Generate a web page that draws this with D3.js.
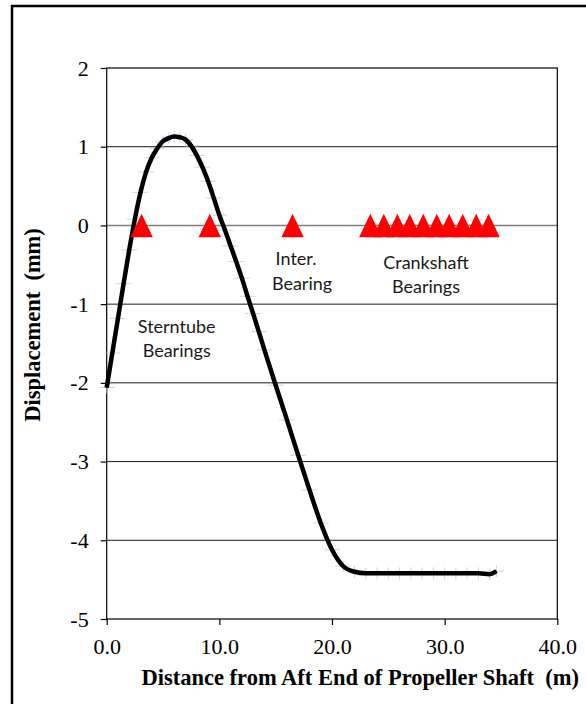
<!DOCTYPE html>
<html lang='en'>
<head>
  <meta charset='UTF-8'>
  <title>Shaft Displacement</title>
  <script src='https://d3js.org/d3.v7.min.js'></script>
  <style>
    body { margin: 0; background: #fff; }
    svg { display: block; }
  </style>
</head>
<body>
<svg width='586' height='704'></svg>
<script>
  // distance from aft end (m) and displacement (mm)
  const dist = [0, 0.5, 1.0, 1.5, 2.0, 2.5, 3.0, 3.5, 4.0, 4.5, 5.0, 5.5, 6.0, 6.5, 7.0, 7.5,
    8.0, 8.5, 9.0, 9.5, 10.0, 10.5, 11.0, 11.5, 12.0, 12.5, 13.0, 13.5, 14.0, 15.0, 16.0,
    17.0, 18.0, 19.0, 20.0, 21.0, 22.0, 23.0, 24.0, 25.0, 26.0, 27.0, 28.0, 29.0, 30.0,
    31.0, 32.0, 33.0, 34.0, 34.6]
  const disp = [-2.06, -1.62, -1.18, -0.74, -0.31, 0.08, 0.42, 0.68, 0.86, 0.98, 1.07, 1.11, 1.13, 1.12, 1.09, 1.01,
    0.89, 0.74, 0.56, 0.35, 0.13, -0.06, -0.26, -0.46, -0.67, -0.9, -1.12, -1.35, -1.58, -2.03, -2.47,
    -2.92, -3.36, -3.78, -4.12, -4.33, -4.40, -4.42, -4.42, -4.42, -4.42, -4.42, -4.42, -4.42, -4.42,
    -4.42, -4.42, -4.42, -4.43, -4.39]

  // bearing positions (m), all sitting at 0 mm
  const sterntubeBearings = [3.1, 9.15]
  const interBearings = [16.5]
  const crankshaftBearings = [23.4, 24.6, 25.8, 26.9, 28.1, 29.3, 30.4, 31.6, 32.8, 33.9]

  const xTicks = [0, 10, 20, 30, 40]
  const yTicks = [2, 1, 0, -1, -2, -3, -4, -5]

  const svg = d3.select('svg')

  // outer frame, runs off the right and bottom edge
  svg.append('rect')
    .attr('x', 12).attr('y', 6)
    .attr('width', 600).attr('height', 720)
    .attr('fill', 'none').attr('stroke', '#000').attr('stroke-width', 2.5)

  const x = d3.scaleLinear().domain([0, 40]).range([106.7, 557.3])
  const y = d3.scaleLinear().domain([-5, 2]).range([619, 68])

  // gridlines
  svg.append('g').selectAll('line')
    .data(yTicks.filter(d => d !== 2 && d !== -5))
    .enter().append('line')
      .attr('x1', x(0)).attr('x2', x(40))
      .attr('y1', d => y(d)).attr('y2', d => y(d))
      .attr('stroke', d => d === 0 ? '#7f7f7f' : '#1a1a1a')
      .attr('stroke-width', d => d === 0 ? 1.6 : 1)

  // plot border
  svg.append('rect')
    .attr('x', x(0)).attr('y', y(2))
    .attr('width', x(40) - x(0)).attr('height', y(-5) - y(2))
    .attr('fill', 'none').attr('stroke', '#000').attr('stroke-width', 1.2)

  const yAxis = svg.append('g')
    .attr('transform', `translate(${x(0)},0)`)
    .call(d3.axisLeft(y).tickValues(yTicks).tickSize(6).tickPadding(12).tickFormat(d => String(d)))
  const xAxis = svg.append('g')
    .attr('transform', `translate(0,${y(-5)})`)
    .call(d3.axisBottom(x).tickValues(xTicks).tickSize(6).tickPadding(13).tickFormat(d => d.toFixed(1)))

  ;[xAxis, yAxis].forEach(a => {
    a.select('.domain').remove()
    a.selectAll('line').attr('stroke', '#000').attr('stroke-width', 1.2)
    a.selectAll('text')
      .attr('font-family', "'Liberation Serif', 'Times New Roman', serif")
      .attr('font-size', 22).attr('fill', '#000')
  })

  // faint data markers
  const pts = dist.map((d, i) => [d, disp[i]])
  const marks = svg.append('g').attr('stroke', '#b9c3dd').attr('stroke-width', 1).attr('opacity', 0.7)
  marks.selectAll('line.h').data(pts).enter().append('line')
    .attr('x1', d => x(d[0]) - 8).attr('x2', d => x(d[0]) + 8)
    .attr('y1', d => y(d[1])).attr('y2', d => y(d[1]))
  marks.selectAll('line.v').data(pts).enter().append('line')
    .attr('x1', d => x(d[0])).attr('x2', d => x(d[0]))
    .attr('y1', d => y(d[1]) - 6).attr('y2', d => y(d[1]) + 6)

  const line = d3.line()
    .x(d => x(d[0]))
    .y(d => y(d[1]))
    .curve(d3.curveMonotoneX)

  svg.append('path')
    .datum(pts)
    .attr('d', line)
    .attr('fill', 'none')
    .attr('stroke', '#000')
    .attr('stroke-width', 4.5)
    .attr('stroke-linejoin', 'round')

  // bearings
  const tri = 'M0,-11.7L11.2,11.7L-11.2,11.7Z'
  svg.append('g').selectAll('path')
    .data(sterntubeBearings.concat(interBearings, crankshaftBearings))
    .enter().append('path')
      .attr('d', tri)
      .attr('transform', d => `translate(${x(d)},${y(0)})`)
      .attr('fill', '#ff0000')

  // annotations
  const notes = [
    { t: 'Sterntube', x: 176.7, y: 333 },
    { t: 'Bearings', x: 176.7, y: 357 },
    { t: 'Inter.', x: 296, y: 265 },
    { t: 'Bearing', x: 302, y: 290 },
    { t: 'Crankshaft', x: 426, y: 269 },
    { t: 'Bearings', x: 426, y: 293 }
  ]
  svg.append('g').selectAll('text')
    .data(notes).enter().append('text')
      .attr('x', d => d.x).attr('y', d => d.y)
      .attr('text-anchor', 'middle')
      .attr('font-family', 'Lato, sans-serif')
      .attr('font-size', 18)
      .attr('fill', '#1a1a1a')
      .text(d => d.t)

  // axis titles
  svg.append('text')
    .attr('x', 141.5).attr('y', 685)
    .attr('font-family', "'Liberation Serif', 'Times New Roman', serif")
    .attr('font-weight', 'bold').attr('font-size', 22.5)
    .attr('xml:space', 'preserve')
    .text('Distance from Aft End of Propeller Shaft  (m)')

  svg.append('text')
    .attr('transform', 'translate(40,325) rotate(-90)')
    .attr('text-anchor', 'middle')
    .attr('font-family', "'Liberation Serif', 'Times New Roman', serif")
    .attr('font-weight', 'bold').attr('font-size', 22.5)
    .attr('xml:space', 'preserve')
    .text('Displacement  (mm)')
</script>
</body>
</html>
